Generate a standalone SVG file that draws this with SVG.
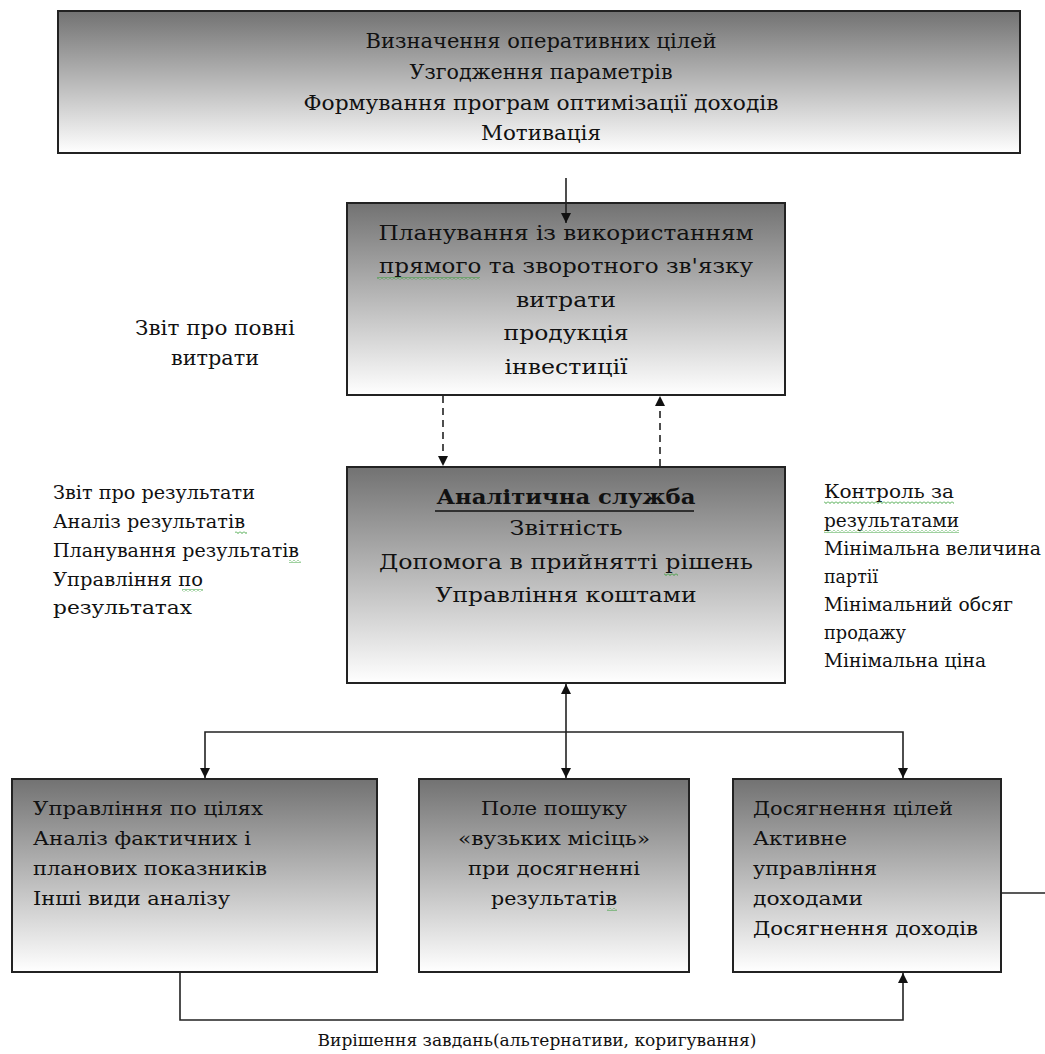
<svg xmlns="http://www.w3.org/2000/svg" width="1045" height="1054" viewBox="0 0 1045 1054" font-family="'DejaVu Serif','Liberation Serif',serif">
<style>
.box{stroke:#222;stroke-width:2;fill:url(#g)}
text{font-family:"DejaVu Serif","Liberation Serif",serif;fill:#111}
.t22{font-size:21px}
.t21{font-size:20px}
.t20{font-size:19px}
.t18{font-size:16px}
.c{text-anchor:middle}
.ln{stroke:#222;stroke-width:1.6;fill:none}
.dash{stroke-dasharray:7,5}
.sq{fill:url(#sq)}
</style>
<defs>
<linearGradient id="g" x1="0" y1="0" x2="0" y2="1">
<stop offset="0" stop-color="#727272"/>
<stop offset="1" stop-color="#ffffff"/>
</linearGradient>
<pattern id="sq" width="4" height="3" patternUnits="userSpaceOnUse">
<path d="M0,0.5 L2,2.5 L4,0.5" stroke="#2a9a2a" stroke-width="0.9" fill="none"/>
</pattern>
<marker id="ah" viewBox="0 0 10 10" refX="10" refY="5" markerWidth="10" markerHeight="10" markerUnits="userSpaceOnUse" orient="auto-start-reverse">
<path d="M0,0 L10,5 L0,10 z" fill="#111"/>
</marker>
</defs>

<g id="node-top">
<rect class="box" x="58" y="11" width="962" height="142"/>
<text class="t22 c" x="541" y="48" textLength="351" lengthAdjust="spacingAndGlyphs">Визначення оперативних цілей</text>
<text class="t22 c" x="541" y="79" textLength="263" lengthAdjust="spacingAndGlyphs">Узгодження параметрів</text>
<text class="t22 c" x="541" y="110" textLength="475" lengthAdjust="spacingAndGlyphs">Формування програм оптимізації доходів</text>
<text class="t22 c" x="541" y="140" textLength="120" lengthAdjust="spacingAndGlyphs">Мотивація</text>
</g>

<g id="node-planning">
<rect class="box" x="347" y="203" width="438" height="192"/>
<text class="t22 c" x="566" y="240" textLength="375" lengthAdjust="spacingAndGlyphs">Планування із використанням</text>
<text class="t22 c" x="566" y="273" textLength="374" lengthAdjust="spacingAndGlyphs">прямого та зворотного зв'язку</text>
<rect class="sq" x="377" y="277" width="103" height="3"/>
<text class="t22 c" x="566" y="307" textLength="100" lengthAdjust="spacingAndGlyphs">витрати</text>
<text class="t22 c" x="566" y="340" textLength="125" lengthAdjust="spacingAndGlyphs">продукція</text>
<text class="t22 c" x="566" y="374" textLength="123" lengthAdjust="spacingAndGlyphs">інвестиції</text>
</g>

<g id="node-analytic">
<rect class="box" x="347" y="467" width="438" height="216"/>
<text class="t22 c" x="566" y="504" font-weight="bold" textLength="259" lengthAdjust="spacingAndGlyphs">Аналітична служба</text>
<line x1="435" y1="511" x2="694" y2="511" stroke="#111" stroke-width="1.6"/>
<text class="t22 c" x="566" y="535" textLength="113" lengthAdjust="spacingAndGlyphs">Звітність</text>
<text class="t22 c" x="566" y="569" textLength="374" lengthAdjust="spacingAndGlyphs">Допомога в прийнятті рішень</text>
<rect class="sq" x="664" y="573" width="14" height="3"/>
<text class="t22 c" x="566" y="602" textLength="261" lengthAdjust="spacingAndGlyphs">Управління коштами</text>
</g>

<g id="label-full-costs">
<text class="t21 c" x="215" y="335" textLength="160" lengthAdjust="spacingAndGlyphs">Звіт про повні</text>
<text class="t21 c" x="215" y="365" textLength="88" lengthAdjust="spacingAndGlyphs">витрати</text>
</g>

<g id="label-results">
<text class="t20" x="53" y="499" textLength="202" lengthAdjust="spacingAndGlyphs">Звіт про результати</text>
<text class="t20" x="53" y="528" textLength="192" lengthAdjust="spacingAndGlyphs">Аналіз результатів</text>
<rect class="sq" x="235" y="531" width="12" height="3"/>
<text class="t20" x="53" y="557" textLength="246" lengthAdjust="spacingAndGlyphs">Планування результатів</text>
<rect class="sq" x="289" y="560" width="12" height="3"/>
<text class="t20" x="53" y="586" textLength="150" lengthAdjust="spacingAndGlyphs">Управління по</text>
<rect class="sq" x="182" y="589" width="21" height="3"/>
<text class="t20" x="53" y="614" textLength="139" lengthAdjust="spacingAndGlyphs">результатах</text>
</g>

<g id="label-control">
<text class="t20" x="824" y="498" textLength="130" lengthAdjust="spacingAndGlyphs">Контроль за</text>
<rect class="sq" x="824" y="501" width="130" height="3"/>
<text class="t20" x="824" y="527" textLength="135" lengthAdjust="spacingAndGlyphs">результатами</text>
<rect class="sq" x="824" y="530" width="135" height="3"/>
<text class="t20" x="824" y="555" textLength="217" lengthAdjust="spacingAndGlyphs">Мінімальна величина</text>
<text class="t20" x="824" y="583" textLength="54" lengthAdjust="spacingAndGlyphs">партії</text>
<text class="t20" x="824" y="611" textLength="189" lengthAdjust="spacingAndGlyphs">Мінімальний обсяг</text>
<text class="t20" x="824" y="639" textLength="82" lengthAdjust="spacingAndGlyphs">продажу</text>
<text class="t20" x="824" y="667" textLength="162" lengthAdjust="spacingAndGlyphs">Мінімальна ціна</text>
</g>

<g id="node-goals">
<rect class="box" x="12" y="779" width="365" height="193"/>
<text class="t20" x="33" y="815" textLength="230" lengthAdjust="spacingAndGlyphs">Управління по цілях</text>
<text class="t20" x="33" y="845" textLength="218" lengthAdjust="spacingAndGlyphs">Аналіз фактичних і</text>
<text class="t20" x="33" y="875" textLength="234" lengthAdjust="spacingAndGlyphs">планових показників</text>
<text class="t20" x="33" y="905" textLength="197" lengthAdjust="spacingAndGlyphs">Інші види аналізу</text>
</g>

<g id="node-bottleneck">
<rect class="box" x="419" y="779" width="270" height="193"/>
<text class="t20 c" x="554" y="815" textLength="146" lengthAdjust="spacingAndGlyphs">Поле пошуку</text>
<text class="t20 c" x="554" y="845" textLength="192" lengthAdjust="spacingAndGlyphs">«вузьких місіць»</text>
<text class="t20 c" x="554" y="875" textLength="172" lengthAdjust="spacingAndGlyphs">при досягненні</text>
<text class="t20 c" x="554" y="905" textLength="126" lengthAdjust="spacingAndGlyphs">результатів</text>
<rect class="sq" x="607" y="908" width="10" height="3"/>
</g>

<g id="node-achieve">
<rect class="box" x="733" y="779" width="268" height="193"/>
<text class="t20" x="753" y="815" textLength="200" lengthAdjust="spacingAndGlyphs">Досягнення цілей</text>
<text class="t20" x="753" y="845" textLength="94" lengthAdjust="spacingAndGlyphs">Активне</text>
<text class="t20" x="753" y="875" textLength="124" lengthAdjust="spacingAndGlyphs">управління</text>
<text class="t20" x="753" y="905" textLength="110" lengthAdjust="spacingAndGlyphs">доходами</text>
<text class="t20" x="753" y="935" textLength="225" lengthAdjust="spacingAndGlyphs">Досягнення доходів</text>
</g>

<g id="connectors">
<line class="ln" x1="566" y1="178" x2="566" y2="223" marker-end="url(#ah)"/>
<line class="ln dash" x1="443" y1="396" x2="443" y2="466" marker-end="url(#ah)"/>
<line class="ln dash" x1="660" y1="466" x2="660" y2="396" marker-end="url(#ah)"/>
<line class="ln" x1="566" y1="684" x2="566" y2="778" marker-start="url(#ah)" marker-end="url(#ah)"/>
<polyline class="ln" points="205,778 205,732 903,732 903,778" marker-start="url(#ah)" marker-end="url(#ah)"/>
<polyline class="ln" points="180,972 180,1020 903,1020 903,973" marker-end="url(#ah)"/>
<line class="ln" x1="1001" y1="893" x2="1045" y2="893"/>
</g>

<g id="label-tasks">
<text class="t18 c" x="537" y="1046" textLength="439" lengthAdjust="spacingAndGlyphs">Вирішення завдань(альтернативи, коригування)</text>
</g>
</svg>
